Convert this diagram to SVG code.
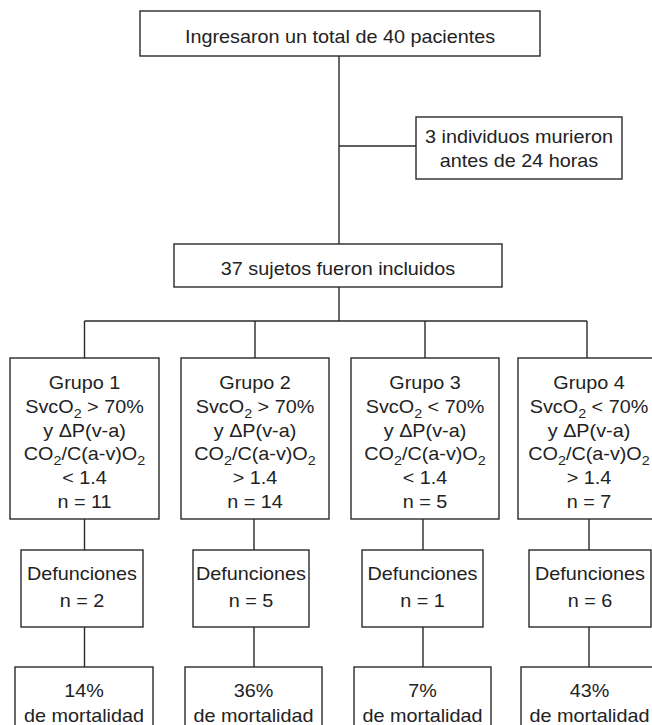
<svg xmlns="http://www.w3.org/2000/svg" width="652" height="725" viewBox="0 0 652 725">
<style>
.box{fill:#fff;stroke:#2a2a2a;stroke-width:1.4}
.ln{fill:none;stroke:#2a2a2a;stroke-width:1.4}
text{font-family:"Liberation Sans",Arial,Helvetica,sans-serif;font-size:18px;fill:#222;text-anchor:middle}
.s{font-size:13px}
</style>
<rect width="652" height="725" fill="#fff"/>
<g id="connectors">
<path class="ln" d="M339 56V244M339 146H416M339 287V321M84.5 321H587M84.5 321V358M255 321V358M425 321V358M587 321V358"/>
<path class="ln" d="M84.5 519V550M84.5 627V667M254 519V550M254 627V667M423 519V550M423 627V667M589 519V550M589 627V667"/>
</g>
<g id="n_total"><rect class="box" x="140" y="11" width="400" height="45"/><text transform="translate(340,43) scale(1.1,1)">Ingresaron un total de 40 pacientes</text></g>
<g id="n_murieron"><rect class="box" x="416" y="117" width="206" height="62"/><text transform="translate(519,143) scale(1.1,1)">3 individuos murieron</text><text transform="translate(519,167) scale(1.1,1)">antes de 24 horas</text></g>
<g id="n_incluidos"><rect class="box" x="174" y="244" width="328" height="43"/><text transform="translate(338,275) scale(1.1,1)">37 sujetos fueron incluidos</text></g>
<g id="g1"><rect class="box" x="10" y="358" width="149" height="161"/>
<text transform="translate(84.5,389) scale(1.1,1)">Grupo 1</text>
<text transform="translate(84.5,413) scale(1.1,1)">SvcO<tspan class="s" dy="5">2</tspan><tspan dy="-5"> &gt; 70%</tspan></text>
<text transform="translate(84.5,437) scale(1.1,1)">y ΔP(v-a)</text>
<text transform="translate(84.5,460) scale(1.1,1)">CO<tspan class="s" dy="5">2</tspan><tspan dy="-5">/C(a-v)O</tspan><tspan class="s" dy="5">2</tspan></text>
<text transform="translate(84.5,484) scale(1.1,1)">&lt; 1.4</text>
<text transform="translate(84.5,508) scale(1.1,1)">n = 11</text></g>
<g id="g2"><rect class="box" x="181" y="358" width="148" height="161"/>
<text transform="translate(255,389) scale(1.1,1)">Grupo 2</text>
<text transform="translate(255,413) scale(1.1,1)">SvcO<tspan class="s" dy="5">2</tspan><tspan dy="-5"> &gt; 70%</tspan></text>
<text transform="translate(255,437) scale(1.1,1)">y ΔP(v-a)</text>
<text transform="translate(255,460) scale(1.1,1)">CO<tspan class="s" dy="5">2</tspan><tspan dy="-5">/C(a-v)O</tspan><tspan class="s" dy="5">2</tspan></text>
<text transform="translate(255,484) scale(1.1,1)">&gt; 1.4</text>
<text transform="translate(255,508) scale(1.1,1)">n = 14</text></g>
<g id="g3"><rect class="box" x="351" y="358" width="148" height="161"/>
<text transform="translate(425,389) scale(1.1,1)">Grupo 3</text>
<text transform="translate(425,413) scale(1.1,1)">SvcO<tspan class="s" dy="5">2</tspan><tspan dy="-5"> &lt; 70%</tspan></text>
<text transform="translate(425,437) scale(1.1,1)">y ΔP(v-a)</text>
<text transform="translate(425,460) scale(1.1,1)">CO<tspan class="s" dy="5">2</tspan><tspan dy="-5">/C(a-v)O</tspan><tspan class="s" dy="5">2</tspan></text>
<text transform="translate(425,484) scale(1.1,1)">&lt; 1.4</text>
<text transform="translate(425,508) scale(1.1,1)">n = 5</text></g>
<g id="g4"><rect class="box" x="518" y="358" width="142" height="161"/>
<text transform="translate(589,389) scale(1.1,1)">Grupo 4</text>
<text transform="translate(589,413) scale(1.1,1)">SvcO<tspan class="s" dy="5">2</tspan><tspan dy="-5"> &lt; 70%</tspan></text>
<text transform="translate(589,437) scale(1.1,1)">y ΔP(v-a)</text>
<text transform="translate(589,460) scale(1.1,1)">CO<tspan class="s" dy="5">2</tspan><tspan dy="-5">/C(a-v)O</tspan><tspan class="s" dy="5">2</tspan></text>
<text transform="translate(589,484) scale(1.1,1)">&gt; 1.4</text>
<text transform="translate(589,508) scale(1.1,1)">n = 7</text></g>
<g id="d1"><rect class="box" x="21" y="550" width="122" height="77"/><text transform="translate(82,580) scale(1.1,1)">Defunciones</text><text transform="translate(82,607) scale(1.1,1)">n = 2</text></g>
<g id="d2"><rect class="box" x="193" y="550" width="116" height="77"/><text transform="translate(251,580) scale(1.1,1)">Defunciones</text><text transform="translate(251,607) scale(1.1,1)">n = 5</text></g>
<g id="d3"><rect class="box" x="362" y="550" width="121" height="77"/><text transform="translate(422.5,580) scale(1.1,1)">Defunciones</text><text transform="translate(422.5,607) scale(1.1,1)">n = 1</text></g>
<g id="d4"><rect class="box" x="529" y="550" width="122" height="77"/><text transform="translate(590,580) scale(1.1,1)">Defunciones</text><text transform="translate(590,607) scale(1.1,1)">n = 6</text></g>
<g id="m1"><rect class="box" x="15" y="667" width="138" height="80"/><text transform="translate(84,697) scale(1.1,1)">14%</text><text transform="translate(84,722) scale(1.1,1)">de mortalidad</text></g>
<g id="m2"><rect class="box" x="185" y="667" width="137" height="80"/><text transform="translate(253.5,697) scale(1.1,1)">36%</text><text transform="translate(253.5,722) scale(1.1,1)">de mortalidad</text></g>
<g id="m3"><rect class="box" x="354" y="667" width="137" height="80"/><text transform="translate(422.5,697) scale(1.1,1)">7%</text><text transform="translate(422.5,722) scale(1.1,1)">de mortalidad</text></g>
<g id="m4"><rect class="box" x="521" y="667" width="137" height="80"/><text transform="translate(589.5,697) scale(1.1,1)">43%</text><text transform="translate(589.5,722) scale(1.1,1)">de mortalidad</text></g>
</svg>
